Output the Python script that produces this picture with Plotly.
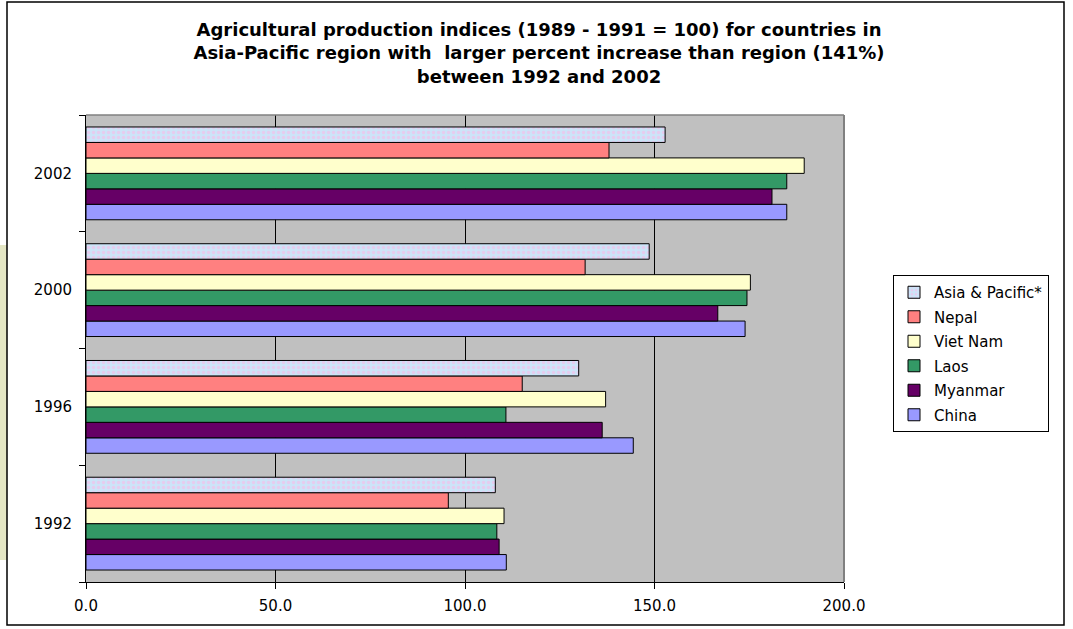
import plotly.graph_objects as go

years = ["1992", "1996", "2000", "2002"]
series_names = ["China", "Myanmar", "Laos", "Viet Nam", "Nepal", "Asia & Pacific*"]
china = [110.9, 144.4, 173.9, 184.9]
myanmar = [109.0, 136.2, 166.7, 181.0]
laos = [108.4, 110.8, 174.4, 184.9]
viet_nam = [110.3, 137.1, 175.3, 189.5]
nepal = [95.6, 115.1, 131.7, 138.0]
asia_pacific = [108.0, 130.0, 148.6, 152.8]
x_ticks = [0, 50, 100, 150, 200]

values = [china, myanmar, laos, viet_nam, nepal, asia_pacific]
colors = ["#9999FF", "#660066", "#339966", "#FFFFCC", "#FF8080", "#CCE0F8"]

FONT = "DejaVu Sans"
fig = go.Figure()
n = len(series_names)
for i, (name, vals, col) in enumerate(zip(series_names, values, colors)):
    marker = dict(color=col, line=dict(color="black", width=1))
    if name.startswith("Asia"):
        marker["pattern"] = dict(shape=".", fgcolor="#E6CCEE", bgcolor="#CCE4F8",
                                 size=5, solidity=0.35, fillmode="replace")
    fig.add_trace(go.Bar(y=years, x=vals, name=name, orientation="h",
                         marker=marker, legendgroup=name, legendrank=n - i))

W, H = 1073, 629
L, R, T, B = 86, 844, 115, 582
pw, ph = R - L, B - T


def px(x):
    return (x - L) / pw


def py(y):
    return (B - y) / ph


fig.update_layout(
    width=W, height=H,
    margin=dict(l=L, r=W - R, t=T, b=H - B),
    paper_bgcolor="white",
    plot_bgcolor="#C0C0C0",
    barmode="group",
    bargap=0.205,
    bargroupgap=0,
    font=dict(family=FONT, size=15, color="black"),
    title=dict(
        text="Agricultural production indices (1989 - 1991 = 100) for countries in<br>"
             "Asia-Pacific region with  larger percent increase than region (141%)<br>"
             "between 1992 and 2002",
        x=539 / W, xanchor="center", xref="container",
        y=1 - 36 / H, yanchor="top", yref="container",
        font=dict(family=FONT, size=18, color="black", weight="bold"),
    ),
    xaxis=dict(
        range=[0, 200], tickvals=x_ticks, tickformat=".1f",
        showgrid=True, gridcolor="black", gridwidth=1,
        showline=True, linecolor="black", linewidth=1,
        ticks="outside", ticklen=6, tickcolor="black",
        zeroline=False, ticklabelstandoff=4,
        tickfont=dict(family=FONT, size=15),
    ),
    yaxis=dict(
        type="category", categoryorder="array", categoryarray=years,
        showgrid=False, showline=True, linecolor="black", linewidth=1,
        ticks="outside", ticklen=6, tickcolor="black", tickson="boundaries",
        ticklabelstandoff=10,
        tickfont=dict(family=FONT, size=15),
    ),
    legend=dict(
        x=px(893), y=py(275), xanchor="left", yanchor="top",
        traceorder="grouped", tracegroupgap=2,
        bordercolor="black", borderwidth=1, bgcolor="white",
        font=dict(family=FONT, size=15),
    ),
    showlegend=True,
    shapes=[
        dict(type="rect", xref="paper", yref="paper",
             x0=px(0), x1=px(7), y0=py(560), y1=py(245),
             fillcolor="#E4E6C4", line=dict(width=0), layer="below"),
        dict(type="rect", xref="paper", yref="paper",
             x0=px(7), x1=px(1064), y0=py(625), y1=py(2),
             line=dict(color="black", width=1.5), layer="below"),
        dict(type="line", xref="paper", yref="paper",
             x0=1, x1=1, y0=0, y1=1, line=dict(color="#808080", width=2)),
        dict(type="line", xref="paper", yref="paper",
             x0=0, x1=1, y0=1, y1=1, line=dict(color="#808080", width=1.5)),
    ],
)

fig.write_html("out.html", config={"displayModeBar": False},
               post_script="document.body.style.margin='0';")
